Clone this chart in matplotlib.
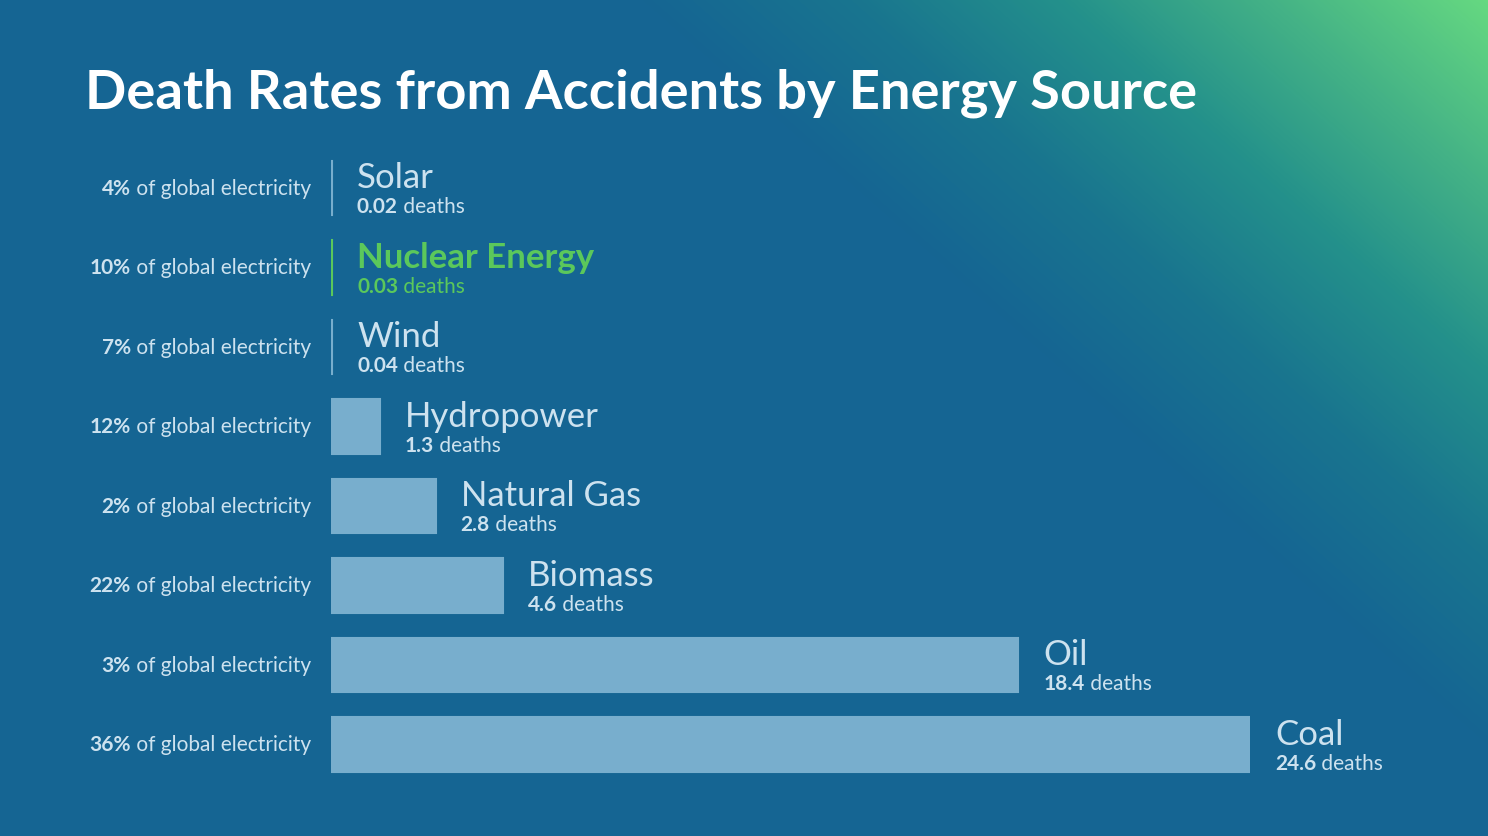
import numpy as np
import matplotlib.pyplot as plt
from matplotlib.colors import LinearSegmentedColormap

plt.rcParams['font.family'] = ['Lato', 'DejaVu Sans']

# data
sources = ['Solar', 'Nuclear Energy', 'Wind', 'Hydropower', 'Natural Gas',
           'Biomass', 'Oil', 'Coal']
deaths = [0.02, 0.03, 0.04, 1.3, 2.8, 4.6, 18.4, 24.6]
shares = [4, 10, 7, 12, 2, 22, 3, 36]
highlight = 'Nuclear Energy'
title = 'Death Rates from Accidents by Energy Source'

text_col = '#cde2ef'
bar_col = '#78aecd'
green = '#5bc85b'

W, H = 1488, 837
fig = plt.figure(figsize=(W / 100, H / 100), dpi=100)

# background: diagonal gradient, green in the top right corner
bg = fig.add_axes([0, 0, 1, 1])
yy, xx = np.mgrid[0:H, 0:W]
t = ((W - xx) + yy * 1.135) / 850
cmap = LinearSegmentedColormap.from_list(
    'bg', [(0, '#66d981'), (0.25, '#45b386'), (0.5, '#24918b'),
           (0.75, '#19758f'), (1, '#156593')])
bg.imshow(np.clip(t, 0, 1), cmap=cmap, vmin=0, vmax=1, aspect='auto')
bg.axis('off')

# bars
ax = fig.add_axes([331 / W, 1 - 785.2 / H, (1250 - 331) / W, 636 / H])
ax.patch.set_alpha(0)
ax.set_xlim(0, max(deaths))
ax.set_ylim(len(sources) - 0.5, -0.5)
ax.axis('off')

for i, (src, d, s) in enumerate(zip(sources, deaths, shares)):
    c = green if src == highlight else bar_col
    tc = green if src == highlight else text_col
    ax.barh(i, d, height=0.69, left=0, color=c, edgecolor=c, linewidth=1.5)

    # left label: "xx% of global electricity"
    reg = ax.annotate(' of global electricity', xy=(0, i), xytext=(-14.4, -4),
                      textcoords='offset points', ha='right', va='baseline',
                      fontsize=15, color=text_col)
    ax.annotate(f'{s}%', xy=(0, i), xycoords=(reg, 'data'), xytext=(0, -4),
                textcoords='offset points', ha='right', va='baseline',
                fontsize=15, weight='bold', color=text_col)

    # right label: name + deaths
    ax.annotate(src, xy=(d, i), xytext=(18, 0.5), textcoords='offset points',
                ha='left', va='baseline', fontsize=25, color=tc,
                weight='bold' if src == highlight else 'normal')
    num = ax.annotate(f'{d:g}', xy=(d, i), xytext=(18, -17.5), textcoords='offset points',
                      ha='left', va='baseline', fontsize=15, weight='bold', color=tc)
    ax.annotate(' deaths', xy=(1, i), xycoords=(num, 'data'), xytext=(0, -17.5),
                textcoords='offset points', ha='left', va='baseline',
                fontsize=15, color=tc)

fig.text(85 / W, 1 - 108 / H, title, fontsize=39.1, weight='bold', color='white',
         va='baseline', ha='left')

fig.savefig('out.png', dpi=100)
